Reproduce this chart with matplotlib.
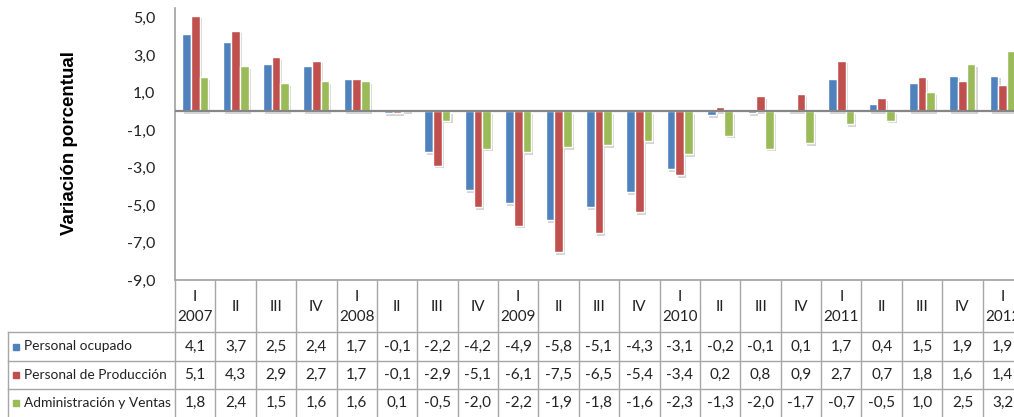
# =========================================================
# Variación porcentual por trimestre - barras + tabla de datos
# =========================================================

import numpy as np
import matplotlib.pyplot as plt
import matplotlib.patheffects as pe
from matplotlib.transforms import blended_transform_factory

# =========================
# DATA
# =========================

quarters = ["I\n2007", "II", "III", "IV", "I\n2008", "II", "III", "IV",
            "I\n2009", "II", "III", "IV", "I\n2010", "II", "III", "IV",
            "I\n2011", "II", "III", "IV", "I\n2012"]

ocupado = [4.1, 3.7, 2.5, 2.4, 1.7, -0.1, -2.2, -4.2, -4.9, -5.8, -5.1,
           -4.3, -3.1, -0.2, -0.1, 0.1, 1.7, 0.4, 1.5, 1.9, 1.9]
produccion = [5.1, 4.3, 2.9, 2.7, 1.7, -0.1, -2.9, -5.1, -6.1, -7.5, -6.5,
              -5.4, -3.4, 0.2, 0.8, 0.9, 2.7, 0.7, 1.8, 1.6, 1.4]
admin = [1.8, 2.4, 1.5, 1.6, 1.6, 0.1, -0.5, -2.0, -2.2, -1.9, -1.8,
         -1.6, -2.3, -1.3, -2.0, -1.7, -0.7, -0.5, 1.0, 2.5, 3.2]

series_names = ["Personal ocupado", "Personal de Producción",
                "Administración y Ventas"]
series_values = [ocupado, produccion, admin]
colors = ["#4F81BD", "#C0504D", "#9BBB59"]

yticks = [-9, -7, -5, -3, -1, 1, 3, 5]

# =========================
# FIGURE LAYOUT (pixels)
# =========================

W, H = 1014, 417
fig = plt.figure(figsize=(W / 100, H / 100), dpi=100)

def fx(px):
    return px / W

def fy(py):
    return 1 - py / H

ax_left, ax_right = 175, 1023
ax_top, ax_bottom = 8, 280
ax = fig.add_axes([fx(ax_left), fy(ax_bottom),
                   fx(ax_right - ax_left), (ax_bottom - ax_top) / H])

# =========================
# BARS
# =========================

x = np.arange(len(quarters))
bw = 0.215
shadow = [pe.SimplePatchShadow(offset=(1.5, -2), shadow_rgbFace="#777777",
                               alpha=0.3), pe.Normal()]
for k, (vals, c) in enumerate(zip(series_values, colors)):
    bars = ax.bar(x + (k - 1) * bw, vals, bw, color=c, edgecolor="white",
                  linewidth=1.0, zorder=3)
    for b in bars:
        b.set_path_effects(shadow)

ax.axhline(0, color="#868686", linewidth=1.6, zorder=4)

ax.set_xlim(-0.5, len(quarters) - 0.5)
ax.set_ylim(-9, 5.5)
ax.set_yticks(yticks)
ax.set_yticklabels([f"{v:.1f}".replace(".", ",") for v in yticks],
                   fontsize=11.5, fontfamily="Lato", color="#222222")
ax.tick_params(axis="y", length=0, pad=14)
ax.set_xticks([])
for s in ["top", "right"]:
    ax.spines[s].set_visible(False)
for s in ["left", "bottom"]:
    ax.spines[s].set_color("#A0A0A0")
    ax.spines[s].set_linewidth(1.2)

fig.text(fx(70), fy(143), "Variación porcentual", rotation=90,
         ha="center", va="center", fontsize=13.5, fontweight="bold",
         fontfamily="Liberation Sans")

# =========================
# DATA TABLE
# =========================

trans = blended_transform_factory(ax.transData, fig.transFigure)
grid_c = "#A6A6A6"
row_lines = [332, 361, 389]
row_centers = [346.5, 375, 403]

# vertical column borders
for i in range(len(quarters) + 1):
    fig.add_artist(plt.Line2D([i - 0.5, i - 0.5], [fy(ax_bottom), 0],
                              transform=trans, color=grid_c, lw=1.0))
# horizontal borders
for yl in row_lines:
    fig.add_artist(plt.Line2D([fx(8), 1], [fy(yl), fy(yl)],
                              transform=fig.transFigure, color=grid_c, lw=1.0))
fig.add_artist(plt.Line2D([fx(8), fx(8)], [fy(332), 0],
                          transform=fig.transFigure, color=grid_c, lw=1.0))

# header
for i, q in enumerate(quarters):
    fig.text(i, fy(307), q, transform=trans, ha="center", va="center",
             fontsize=11, fontfamily="Lato", linespacing=1.55,
             color="#222222")

# rows
for name, vals, c, yc in zip(series_names, series_values, colors, row_centers):
    fig.add_artist(plt.Rectangle((fx(13), fy(yc + 3)), fx(6), 6 / H,
                                 transform=fig.transFigure, color=c))
    fig.text(fx(24), fy(yc), name, ha="left", va="center", fontsize=9.9,
             fontfamily="Lato", color="#222222")
    for i, v in enumerate(vals):
        fig.text(i, fy(yc), f"{v:.1f}".replace(".", ","), transform=trans,
                 ha="center", va="center", fontsize=11, fontfamily="Lato",
                 color="#222222")

plt.savefig("out.png", dpi=100)
